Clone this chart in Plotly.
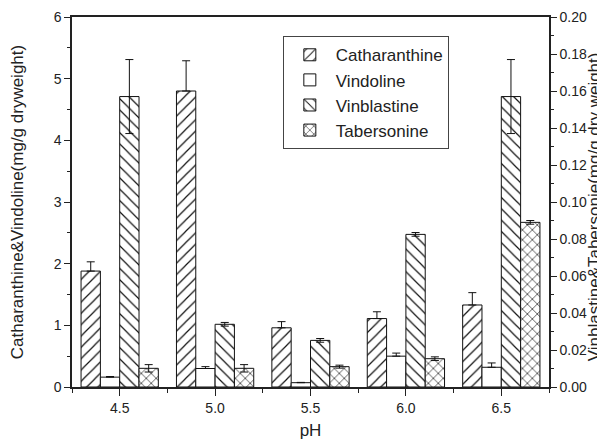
import plotly.graph_objects as go

ph = [4.5, 5.0, 5.5, 6.0, 6.5]
ph_labels = ["4.5", "5.0", "5.5", "6.0", "6.5"]

catharanthine = [1.88, 4.80, 0.96, 1.11, 1.33]
catharanthine_err = [0.15, 0.49, 0.10, 0.11, 0.20]
vindoline = [0.16, 0.30, 0.07, 0.50, 0.32]
vindoline_err = [0.01, 0.03, 0.005, 0.05, 0.07]
vinblastine = [0.157, 0.0339, 0.0252, 0.0825, 0.157]
vinblastine_err = [0.020, 0.001, 0.001, 0.001, 0.020]
tabersonine = [0.0101, 0.0101, 0.0110, 0.0153, 0.0890]
tabersonine_err = [0.002, 0.002, 0.0008, 0.001, 0.001]

FONT = "Liberation Sans, Arial, sans-serif"
line = dict(color="#111", width=1)

def err(vals, sym=True):
    d = dict(type="data", array=vals, color="#111", thickness=1, width=4, visible=True)
    if not sym:
        d["symmetric"] = False
        d["arrayminus"] = [0] * len(vals)
    return d

def pat(shape, size=8, sol=0.15):
    return dict(shape=shape, size=size, solidity=sol, fgcolor="#111", fgopacity=1, bgcolor="white")

fig = go.Figure()
fig.add_bar(x=ph, y=catharanthine, name="Catharanthine", offsetgroup="1",
            marker=dict(color="white", line=line, pattern=pat("/")),
            error_y=err(catharanthine_err, sym=False))
fig.add_bar(x=ph, y=vindoline, name="Vindoline", offsetgroup="2",
            marker=dict(color="white", line=line),
            error_y=err(vindoline_err, sym=False))
fig.add_bar(x=ph, y=vinblastine, name="Vinblastine", offsetgroup="3", yaxis="y2",
            marker=dict(color="white", line=line, pattern=pat("\\")),
            error_y=err(vinblastine_err))
fig.add_bar(x=ph, y=tabersonine, name="Tabersonine", offsetgroup="4", yaxis="y2",
            marker=dict(color="white", line=line, pattern=pat("x", size=7, sol=0.18)),
            error_y=err(tabersonine_err))

fig.add_annotation(text="Vinblastine&Tabersonie(mg/g dry weight)", textangle=-90,
                   xref="paper", yref="paper", x=1.096, y=0.488,
                   xanchor="center", yanchor="middle", showarrow=False,
                   font=dict(size=17, family=FONT, color="#222"))

fig.update_layout(
    width=605, height=443,
    margin=dict(l=64, r=64, t=9, b=64),
    paper_bgcolor="white", plot_bgcolor="white",
    barmode="group", bargap=0.19, bargroupgap=0,
    font=dict(family=FONT, size=14, color="#222"),
    showlegend=True,
    legend=dict(x=0.442, y=0.948, xanchor="left", yanchor="top",
                bgcolor="white", bordercolor="#444", borderwidth=1, itemwidth=42,
                font=dict(size=17, family=FONT), tracegroupgap=0),
    xaxis=dict(range=[4.25, 6.75], tickvals=ph, ticktext=ph_labels,
               showline=True, linecolor="#222", linewidth=1.5, mirror=True,
               ticks="outside", ticklen=7, tickcolor="#222", showgrid=False, zeroline=False,
               minor=dict(tickvals=[4.25, 4.75, 5.25, 5.75, 6.25, 6.75], ticks="outside", ticklen=4, tickcolor="#222"),
               title=dict(text="pH", font=dict(size=17), standoff=10), automargin=False),
    yaxis=dict(range=[0, 6], dtick=1, tick0=0,
               showline=True, linecolor="#222", linewidth=1.5,
               ticks="outside", ticklen=6, tickcolor="#222", showgrid=False, zeroline=False,
               minor=dict(dtick=0.5, ticks="outside", ticklen=3, tickcolor="#222"),
               title=dict(text="Catharanthine&Vindoline(mg/g dryweight)", font=dict(size=17), standoff=27),
               automargin=False),
    yaxis2=dict(range=[0, 0.2], dtick=0.02, tick0=0, tickformat=".2f", overlaying="y", side="right",
                showline=True, linecolor="#222", linewidth=1.5,
                ticks="outside", ticklen=6, tickcolor="#222", showgrid=False, zeroline=False,
                minor=dict(dtick=0.01, ticks="outside", ticklen=3, tickcolor="#222"),
                automargin=False),
)

fig.write_html("out.html")
